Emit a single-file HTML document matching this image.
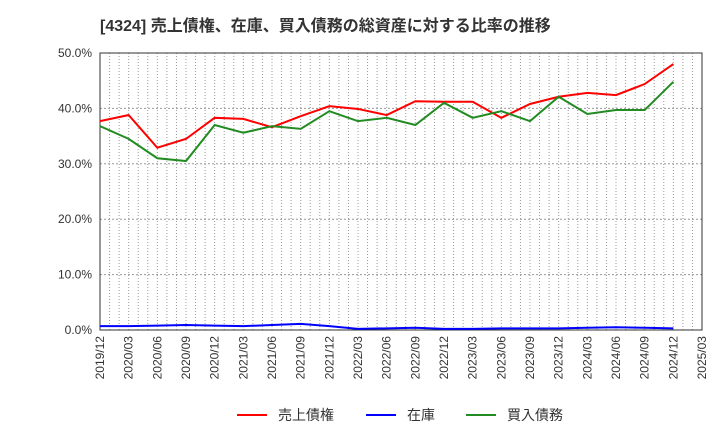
<!DOCTYPE html>
<html><head><meta charset="utf-8"><style>
body{margin:0;background:#fff;font-family:"Liberation Sans","Noto Sans CJK JP",sans-serif;}
</style></head><body>
<svg id="c" width="720" height="440" xmlns="http://www.w3.org/2000/svg" font-family="Liberation Sans, Noto Sans CJK JP, sans-serif">
<text x="100" y="31" font-size="16" font-weight="bold" fill="#333">[4324]  売上債権、在庫、買入債務の総資産に対する比率の推移</text>
<g id="grid"></g><g id="axes"></g><g id="series"></g>
<g>
<line x1="237" y1="415" x2="267" y2="415" stroke="#f00" stroke-width="2"/><text x="278" y="420" font-size="14" fill="#333">売上債権</text>
<line x1="366" y1="415" x2="396" y2="415" stroke="#00f" stroke-width="2"/><text x="407" y="420" font-size="14" fill="#333">在庫</text>
<line x1="466" y1="415" x2="496" y2="415" stroke="#228b22" stroke-width="2"/><text x="507" y="420" font-size="14" fill="#333">買入債務</text>
</g>
</svg>
<script>
const categories=["2019/12","2020/03","2020/06","2020/09","2020/12","2021/03","2021/06","2021/09","2021/12","2022/03","2022/06","2022/09","2022/12","2023/03","2023/06","2023/09","2023/12","2024/03","2024/06","2024/09","2024/12","2025/03"];
const receivables=[37.7,38.8,32.9,34.5,38.3,38.1,36.6,38.6,40.4,39.9,38.8,41.3,41.2,41.2,38.3,40.8,42.1,42.8,42.4,44.4,48.0];
const inventory=[0.7,0.7,0.8,0.9,0.8,0.7,0.9,1.1,0.7,0.2,0.3,0.4,0.2,0.2,0.3,0.3,0.3,0.4,0.5,0.4,0.3];
const payables=[36.8,34.5,31.0,30.5,37.0,35.6,36.8,36.3,39.5,37.7,38.3,37.0,41.0,38.3,39.5,37.7,42.1,39.0,39.7,39.7,44.8];
const yTicks=[0,10,20,30,40,50];
const L=100,R=702,T=53,B=330;
const xs=i=>L+(R-L)*i/(categories.length-1);
const ys=v=>B-(B-T)*v/50;
const NS="http://www.w3.org/2000/svg";
function mk(p,t,a){const e=document.createElementNS(NS,t);for(const k in a)e.setAttribute(k,a[k]);p.appendChild(e);return e;}
const grid=document.getElementById('grid'),axes=document.getElementById('axes'),ser=document.getElementById('series');
const months=(categories.length-1)*3;
for(let m=1;m<months;m++){const x=L+(R-L)*m/months;const g=mk(grid,'line',{x1:x,x2:x,y1:T,y2:B,stroke:'#999','stroke-dasharray':'1,2','stroke-width':1});

}
yTicks.forEach(v=>{const y=ys(v);const g=mk(grid,'line',{x1:L,x2:R,y1:y,y2:y,stroke:'#999','stroke-dasharray':'2,2'});


const t=mk(axes,'text',{x:L-8,y:y+4,'text-anchor':'end','font-size':12,fill:'#333'});t.textContent=v.toFixed(1)+'%';

});
const fr=mk(axes,'rect',{x:L,y:T,width:R-L,height:B-T,fill:'none',stroke:'#333'});


categories.forEach((c,i)=>{const x=xs(i);const t=mk(axes,'text',{x:x+4,y:B+6,'text-anchor':'end','font-size':12,fill:'#333',transform:`rotate(-90 ${x+4} ${B+6})`});t.textContent=c;

});
[[receivables,'#f00','receivables-line'],[inventory,'#00f','inventory-line'],[payables,'#228b22','payables-line']].forEach(([d,c,n])=>{
const p=mk(ser,'polyline',{points:d.map((v,i)=>xs(i)+','+ys(v)).join(' '),fill:'none',stroke:c,'stroke-width':2});

});
</script>
</body></html>
